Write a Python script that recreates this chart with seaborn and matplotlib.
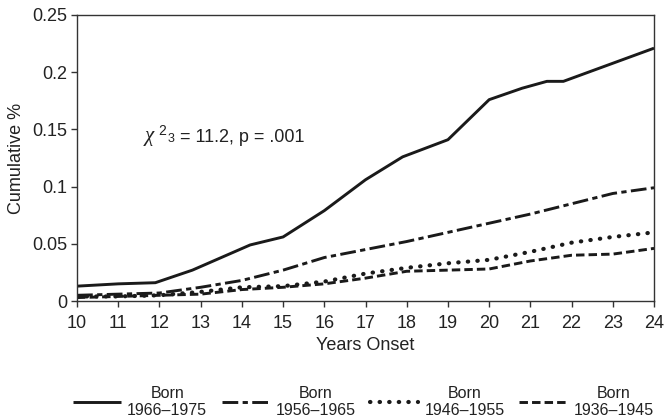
import matplotlib
matplotlib.use("Agg")
import matplotlib.pyplot as plt
import seaborn as sns
import pandas as pd

# Data
x_1966 = [10, 11, 11.9, 12.8, 14.2, 15, 16, 17, 17.9, 19, 20, 20.8, 21.4, 21.8, 24]
y_1966 = [0.013, 0.015, 0.016, 0.027, 0.049, 0.056, 0.079, 0.106, 0.126, 0.141, 0.176, 0.186, 0.192, 0.192, 0.221]

x_1956 = [10, 11, 12, 13, 14, 15, 16, 17, 18, 19, 20, 21, 22, 23, 24]
y_1956 = [0.005, 0.006, 0.007, 0.012, 0.018, 0.027, 0.038, 0.045, 0.052, 0.060, 0.068, 0.076, 0.085, 0.094, 0.099]

x_1946 = [10, 11, 12, 13, 14, 15, 16, 17, 18, 19, 20, 21, 22, 23, 24]
y_1946 = [0.004, 0.004, 0.005, 0.008, 0.012, 0.013, 0.017, 0.024, 0.029, 0.033, 0.036, 0.043, 0.051, 0.056, 0.060]

x_1936 = [10, 11, 12, 13, 14, 15, 16, 17, 18, 19, 20, 21, 22, 23, 24]
y_1936 = [0.003, 0.004, 0.005, 0.006, 0.010, 0.012, 0.015, 0.020, 0.026, 0.027, 0.028, 0.035, 0.040, 0.041, 0.046]

labels = ["Born\n1966\u20131975", "Born\n1956\u20131965", "Born\n1946\u20131955", "Born\n1936\u20131945"]
x_ticks = list(range(10, 25))
y_ticks = [0, 0.05, 0.1, 0.15, 0.2, 0.25]
y_tick_labels = ["0", "0.05", "0.1", "0.15", "0.2", "0.25"]

sns.set_theme(style="ticks")
plt.rcParams["font.family"] = ["Liberation Sans", "DejaVu Sans"]

TXT = "#222222"
LINE = "#1a1a1a"

fig = plt.figure(figsize=(6.64, 4.2), dpi=100)
ax = fig.add_axes([0.1160, 0.2833, 0.869, 0.681])

series = [(x_1966, y_1966), (x_1956, y_1956), (x_1946, y_1946), (x_1936, y_1936)]
# (linewidth, dash pattern or None, capstyle)
styles = [
    (2.1, None, "butt"),
    (2.1, (5.4, 1.5, 1.8, 1.5), "butt"),
    (3.0, (0.1, 2.2), "round"),
    (2.1, (2.9, 1.4), "butt"),
]
for (xs, ys), lab in zip(series, labels):
    df = pd.DataFrame({"x": xs, "y": ys})
    sns.lineplot(data=df, x="x", y="y", ax=ax, color=LINE, label=lab)

for line, (lw, dash, cap) in zip(ax.get_lines(), styles):
    line.set_linewidth(lw)
    if dash is None:
        line.set_linestyle("-")
    else:
        line.set_linestyle((0, dash))
    line.set_dash_capstyle(cap)
    line.set_solid_capstyle("butt")

ax.set_xlim(10, 24)
ax.set_ylim(0, 0.25)
ax.set_xticks(x_ticks)
ax.set_xticklabels([str(t) for t in x_ticks])
ax.set_yticks(y_ticks)
ax.set_yticklabels(y_tick_labels)
ax.tick_params(axis="both", labelsize=13, colors="#333333", labelcolor=TXT,
               length=4, width=1, direction="out")
ax.tick_params(axis="x", pad=6)
ax.tick_params(axis="y", pad=3)
ax.set_xlabel("Years Onset", fontsize=13, color=TXT, labelpad=4)
ax.set_ylabel("Cumulative %", fontsize=13, color=TXT, labelpad=5)
for sp in ax.spines.values():
    sp.set_visible(True)
    sp.set_color("#333333")
    sp.set_linewidth(1.0)

# Chi-square annotation
ax.text(11.65, 0.1395, "\u03c7", fontsize=15, color=TXT, ha="left", va="baseline",
        family="Liberation Serif", style="italic")
ax.text(11.97, 0.1450, "2", fontsize=10, color=TXT, ha="left", va="baseline")
ax.text(12.20, 0.1390, "3", fontsize=9, color=TXT, ha="left", va="baseline")
ax.text(12.50, 0.1390, "= 11.2, p = .001", fontsize=13, color=TXT, ha="left", va="baseline")

ax.get_legend().remove()
handles, labs = ax.get_legend_handles_labels()
leg = fig.legend(handles, labs, loc="center", bbox_to_anchor=(0.547, 0.043), ncol=4,
                 frameon=False, fontsize=11.5, handlelength=3.0, columnspacing=0.9,
                 handletextpad=0.4)
for t in leg.get_texts():
    t.set_multialignment("center")
    t.set_color(TXT)

fig.savefig("out.png", dpi=100)
